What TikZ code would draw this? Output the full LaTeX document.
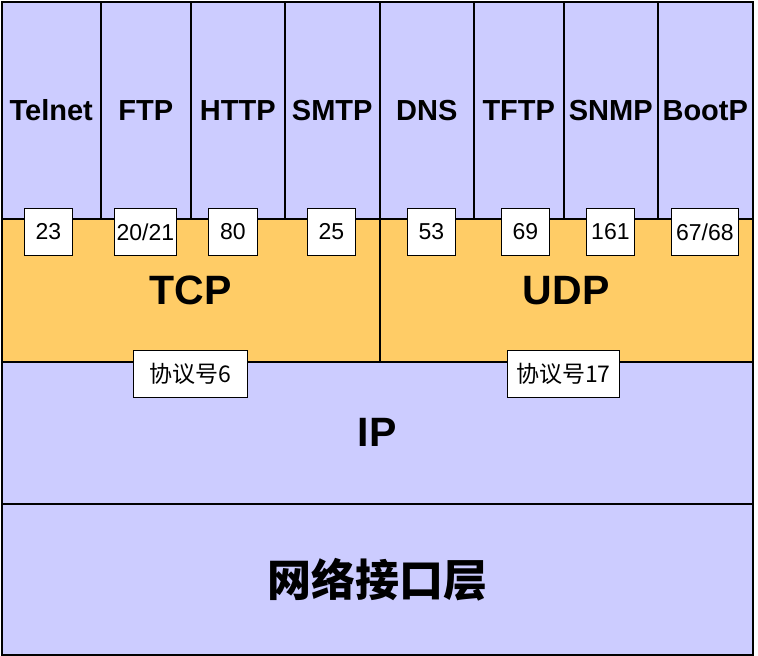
\documentclass[tikz,border=0pt]{standalone}
\usepackage{fontspec}
\setmainfont{Liberation Sans}
\newfontfamily\cjk{Noto Sans CJK SC}
\definecolor{lav}{HTML}{CCCCFF}
\definecolor{tcpor}{HTML}{FFCC66}
\tikzset{
  layerbox/.style={draw,line width=1.5pt,inner sep=0pt,anchor=north west},
  appbox/.style={layerbox,fill=lav,font=\bfseries\fontsize{29}{29}\selectfont},
  portbox/.style={draw,fill=white,line width=0.8pt,inner sep=0pt,anchor=north west,minimum height=47,font=\fontsize{23}{23}\selectfont},
}
\begin{document}
\begin{tikzpicture}[x=1pt,y=-1pt]
    \useasboundingbox (0,0) rectangle (758,656);
    %% Application protocols
    \foreach \name/\a/\b in {Telnet/1/100,FTP/100/190,HTTP/190/284,SMTP/284/379,DNS/379/473,TFTP/473/563,SNMP/563/657,BootP/657/752}
        \node[appbox,minimum width=\b-\a,minimum height=217] (\name) at (\a,1) {\name};
    %% Transport layer
    \node[layerbox,fill=tcpor,minimum width=378,minimum height=143,font=\bfseries\fontsize{41}{41}\selectfont] (tcp) at (1,218) {TCP};
    \node[layerbox,fill=tcpor,minimum width=373,minimum height=143,font=\bfseries\fontsize{41}{41}\selectfont] (udp) at (379,218) {UDP};
    %% IP and network interface
    \node[layerbox,fill=lav,minimum width=751,minimum height=142,font=\bfseries\fontsize{41}{41}\selectfont] (ip) at (1,361) {IP};
    \node[layerbox,fill=lav,minimum width=751,minimum height=151,font=\cjk\bfseries\fontsize{44}{44}\selectfont] (net) at (1,503) {网络接口层};
    %% Port numbers
    \foreach \a/\b/\port [count=\i] in {24/72/23,114/176/{20/21},208/257/80,307/355/25,407/455/53,501/549/69,586/634/161,671/738/{67/68}}
        \node[portbox,minimum width=\b-\a] (port\i) at (\a,208) {\port};
    %% Protocol numbers
    \node[portbox,minimum width=114,font=\cjk\fontsize{23}{23}\selectfont] (tcpnum) at (133,350) {协议号6};
    \node[portbox,minimum width=112,font=\cjk\fontsize{23}{23}\selectfont] (udpnum) at (507,350) {协议号17};
\end{tikzpicture}
\end{document}
